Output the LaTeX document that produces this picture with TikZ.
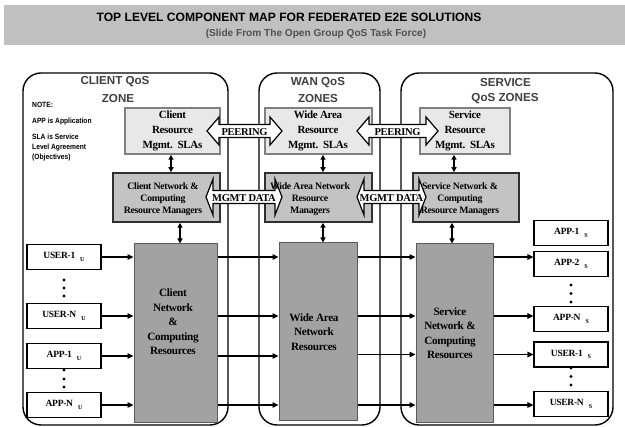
\documentclass[tikz,border=0pt]{standalone}
\usepackage{fontspec}
\setmainfont{Liberation Serif}
\newfontfamily\headsans{Liberation Sans}
\newfontfamily\notesans[FakeStretch=0.88]{Liberation Sans}
\newfontfamily\boxserif[LetterSpace=-3.0]{Liberation Serif}
\usetikzlibrary{arrows.meta,calc}

\definecolor{barfill}{HTML}{C0C0C0}
\definecolor{zonetext}{HTML}{3F3F3F}
\definecolor{subtext}{HTML}{505050}
\definecolor{slafill}{HTML}{E8E8E8}
\definecolor{sladraw}{HTML}{808080}
\definecolor{mgrfill}{HTML}{C3C3C3}
\definecolor{mgrdraw}{HTML}{303030}
\definecolor{resfill}{HTML}{A2A2A2}
\definecolor{resdraw}{HTML}{5A5A5A}

% white block arrow with heads at both ends: x0, x1, y centre, half shaft, half head, head length
\newcommand{\blkarrow}[6]{%
  \draw[blockarr] (#1,#3) -- (#1+#6,#3-#5) -- (#1+#6,#3-#4) -- (#2-#6,#3-#4)
    -- (#2-#6,#3-#5) -- (#2,#3) -- (#2-#6,#3+#5) -- (#2-#6,#3+#4)
    -- (#1+#6,#3+#4) -- (#1+#6,#3+#5) -- cycle;}
% lowered small index after a box label
\newcommand{\zsub}[1]{\hspace{5pt}\raisebox{-2.5pt}{\fontsize{6}{6}\selectfont #1}}

\tikzset{
  zone/.style={line width=1.4pt, rounded corners=18pt},
  slabox/.style={draw=sladraw, fill=slafill, line width=1.5pt, inner sep=0pt},
  mgrbox/.style={draw=mgrdraw, fill=mgrfill, line width=1.5pt, inner sep=0pt},
  resbox/.style={draw=resdraw, fill=resfill, line width=1pt, inner sep=0pt},
  endbox/.style={draw, fill=white, line width=1.2pt, minimum width=74pt,
    minimum height=25pt, inner sep=0pt,
    font=\boxserif\bfseries\fontsize{9.5}{10}\selectfont},
  slatext/.style={align=center, inner sep=0pt,
    font=\boxserif\bfseries\fontsize{11}{15}\selectfont},
  mgrtext/.style={align=center, inner sep=0pt,
    font=\boxserif\bfseries\fontsize{9.8}{12}\selectfont},
  restext/.style={align=center, inner sep=0pt,
    font=\boxserif\bfseries\fontsize{11.2}{14.5}\selectfont},
  zonetitle/.style={text=zonetext, inner sep=0pt,
    font=\headsans\bfseries\fontsize{11.6}{12}\selectfont},
  notetext/.style={anchor=west, inner sep=0pt,
    font=\notesans\bfseries\fontsize{7.6}{8}\selectfont},
  flow/.style={line width=1.2pt, -{Triangle[length=6pt,width=5.5pt]}},
  updown/.style={line width=1.5pt,
    {Triangle[length=5pt,width=5pt]}-{Triangle[length=5pt,width=5pt]}},
  blockarr/.style={draw=black, fill=white, line width=1.2pt, line join=miter},
  arrtext/.style={inner sep=0pt, font=\boxserif\bfseries\fontsize{10.5}{10.5}\selectfont},
  dotmark/.style={fill=black},
}

\begin{document}
\begin{tikzpicture}[x=1pt,y=-1pt]
\useasboundingbox (0,0) rectangle (625,427);

% heading bar
\fill[barfill] (4,5) rectangle (625,45);
\node[inner sep=0pt, font=\headsans\bfseries\fontsize{12.1}{13}\selectfont] (title) at (289,17)
  {TOP LEVEL COMPONENT MAP FOR FEDERATED E2E SOLUTIONS};
\node[inner sep=0pt, text=subtext, font=\headsans\bfseries\fontsize{10.1}{11}\selectfont] (subtitle) at (316,34)
  {(Slide From The Open Group QoS Task Force)};

% the three zones
\draw[zone] (23,73) rectangle (228,425);
\draw[zone] (259,73) rectangle (380,425);
\draw[zone] (401,73) rectangle (613,425);

\node[zonetitle] (zc1) at (115,82) {CLIENT QoS};
\node[zonetitle] (zc2) at (118,99) {ZONE};
\node[zonetitle] (zw1) at (318,82.5) {WAN QoS};
\node[zonetitle] (zw2) at (318,99) {ZONES};
\node[zonetitle] (zs1) at (505.5,82.5) {SERVICE};
\node[zonetitle] (zs2) at (505,99) {QoS ZONES};

% note
\node[notetext] (note1) at (32,105) {NOTE:};
\node[notetext] (note2) at (32,122) {APP is Application};
\node[notetext] (note3) at (32,137) {SLA is Service};
\node[notetext] (note4) at (32,147.5) {Level Agreement};
\node[notetext] (note5) at (32,158) {(Objectives)};

% SLA boxes
\node[slabox, minimum width=95pt, minimum height=46pt] (sla1) at (172.5,131) {};
\node[slabox, minimum width=107pt, minimum height=46pt] (sla2) at (318.5,131) {};
\node[slabox, minimum width=90pt, minimum height=46pt] (sla3) at (465,131) {};

% resource manager boxes
\node[mgrbox, minimum width=107pt, minimum height=49pt] (mgr1) at (166.5,197.5) {};
\node[mgrbox, minimum width=107pt, minimum height=49pt] (mgr2) at (318.5,197.5) {};
\node[mgrbox, minimum width=106pt, minimum height=49pt] (mgr3) at (466,197.5) {};

% network and computing resources
\node[resbox, minimum width=83pt, minimum height=179pt] (res1) at (175.5,333.5) {};
\node[resbox, minimum width=78pt, minimum height=178pt] (res2) at (318,332) {};
\node[resbox, minimum width=77pt, minimum height=179pt] (res3) at (454.5,333.5) {};

% client side end points
\node[endbox] (u1) at (64,257) {USER-1\zsub{U}};
\node[endbox] (un) at (64,316) {USER-N\zsub{U}};
\node[endbox] (a1) at (64,356) {APP-1\zsub{U}};
\node[endbox] (an) at (64,405) {APP-N\zsub{U}};
\foreach \yy in {280,288,296,370,379,387} \fill[dotmark] (64,\yy) circle (1.6);

% service side end points
\node[endbox] (sa1) at (571,233) {APP-1\zsub{S}};
\node[endbox] (sa2) at (571,264) {APP-2\zsub{S}};
\node[endbox] (san) at (571,319) {APP-N\zsub{S}};
\node[endbox] (su1) at (571,354.5) {USER-1\zsub{S}};
\node[endbox] (sun) at (571,404) {USER-N\zsub{S}};
\foreach \yy in {285,293.5,302,368,376.5,385} \fill[dotmark] (571,\yy) circle (1.6);

% flows from the client end points to the services
\draw[flow] (u1.east) -- (u1.east -| res1.west);
\draw[flow] (un.east) -- (un.east -| res1.west);
\draw[flow] (a1.east) -- (a1.east -| res1.west);
\draw[flow] (an.east) -- (an.east -| res1.west);

\draw[flow] (res1.east |- u1.east) -- (res2.west |- u1.east);
\draw[flow] (res1.east |- un.east) -- (res2.west |- un.east);
\draw[flow] (res1.east |- a1.east) -- (res2.west |- a1.east);
\draw[flow] (res1.east |- an.east) -- (res2.west |- an.east);

\draw[flow] (res2.east |- u1.east) -- (res3.west |- u1.east);
\draw[flow] (res2.east |- un.east) -- (res3.west |- un.east);
\draw[flow] (res2.east |- su1.west) -- (res3.west |- su1.west);
\draw[flow] (res2.east |- an.east) -- (res3.west |- an.east);

\draw[flow] (res3.east |- u1.east) -- (sa2.west |- u1.east);
\draw[flow] (res3.east |- un.east) -- (san.west |- un.east);
\draw[flow] (res3.east |- su1.west) -- (su1.west);
\draw[flow] (res3.east |- an.east) -- (sun.west |- an.east);

% vertical links between the layers
\draw[updown] ([xshift=-1.5pt]sla1.south) -- ([xshift=-1.5pt]sla1.south |- mgr1.north);
\draw[updown] ([xshift=13.5pt]mgr1.south) -- ([xshift=13.5pt]mgr1.south |- res1.north);
\draw[updown] ([xshift=4.5pt]sla2.south) -- ([xshift=4.5pt]sla2.south |- mgr2.north);
\draw[updown] ([xshift=4.5pt]mgr2.south) -- ([xshift=4.5pt]mgr2.south |- res2.north);
\draw[updown] ([xshift=-11pt]sla3.south) -- ([xshift=-11pt]sla3.south |- mgr3.north);
\draw[updown] ([xshift=-14pt]mgr3.south) -- ([xshift=-14pt]mgr3.south |- res3.north);

% peering and management data exchanges
\blkarrow{207}{282}{131}{6.5}{14}{12}
\blkarrow{357}{438}{131}{6.5}{14}{12}
\blkarrow{206}{282}{197}{6.5}{18}{7}
\blkarrow{357}{426}{197}{6.5}{18}{7}
\node[arrtext] (peer1) at (244.5,132) {PEERING};
\node[arrtext] (peer2) at (397.5,132) {PEERING};
\node[arrtext] (mgmt1) at (244,198) {MGMT DATA};
\node[arrtext] (mgmt2) at (391.5,198) {MGMT DATA};

% box texts
\node[slatext] (sla1t) at (172.5,131) {Client\\Resource\\Mgmt.\ \ SLAs};
\node[slatext] (sla2t) at (318,131) {Wide Area\\Resource\\Mgmt.\ \ SLAs};
\node[slatext] (sla3t) at (465,131) {Service\\Resource\\Mgmt.\ \ SLAs};

\node[mgrtext] (mgr1t) at (163,199) {Client Network \&\\Computing\\Resource Managers};
\node[mgrtext] (mgr2t) at (310,199) {Wide Area Network\\Resource\\Managers};
\node[mgrtext] (mgr3t) at (460,199) {Service Network \&\\Computing\\Resource Managers};

\node[restext] (res1t) at (173,322) {Client\\Network\\\&\\Computing\\Resources};
\node[restext] (res2t) at (314,332) {Wide Area\\Network\\Resources};
\node[restext] (res3t) at (450,333) {Service\\Network \&\\Computing\\Resources};
\end{tikzpicture}
\end{document}
